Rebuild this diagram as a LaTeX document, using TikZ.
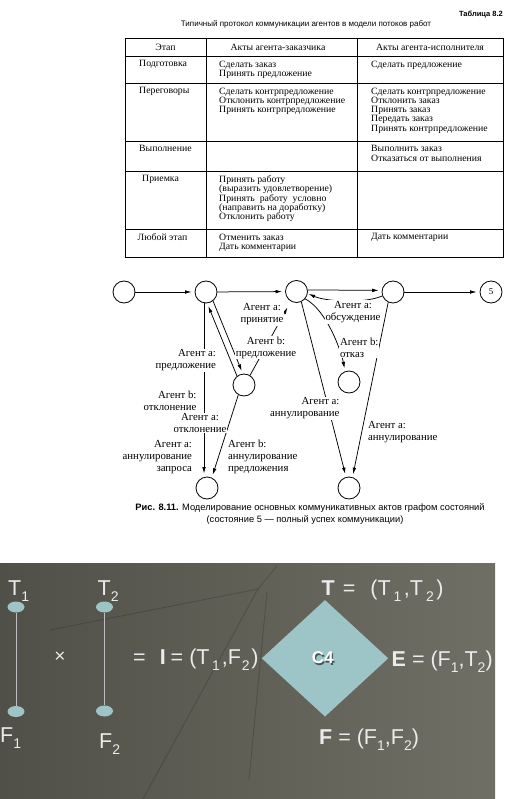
\documentclass[tikz,border=0pt]{standalone}
\usepackage{fontspec}
\setmainfont{Liberation Serif}
\setsansfont{Liberation Sans}
\newfontfamily\tabfont[FakeStretch=1.02]{Liberation Serif}
\usetikzlibrary{arrows.meta,shapes.geometric}
\definecolor{bgL}{HTML}{505048}
\definecolor{bgR}{HTML}{706F65}
\definecolor{teal1}{HTML}{9DC4C6}
\definecolor{slidetxt}{HTML}{EBEBEB}
\definecolor{vline}{HTML}{BEBEBE}
\newcommand\sbx[1]{\raisebox{-0.3em}{\fontsize{14}{14}\selectfont #1}}
\begin{document}
\begin{tikzpicture}[x=1pt,y=-1pt,
  tbl/.style={line width=0.8pt},
  th/.style={font=\tabfont\fontsize{9.6}{9.3}\selectfont, inner sep=0pt},
  tx/.style={font=\tabfont\fontsize{9.6}{9.3}\selectfont, align=left, anchor=north west, inner sep=0pt},
  st/.style={circle, draw, line width=0.8pt, minimum size=22pt, inner sep=0pt},
  lb/.style={font=\fontsize{10.8}{12}\selectfont, inner sep=0.8pt, fill=white, align=center},
  ar/.style={-{Latex[length=6.5pt,width=3.6pt]}, line width=0.75pt, shorten >=3pt},
  faint/.style={draw=black, opacity=0.16, line width=0.9pt},
  stx/.style={text=slidetxt, font=\sffamily\fontsize{21.5}{24}\selectfont, inner sep=0pt, anchor=base west},
  dot/.style={ellipse, fill=teal1, minimum width=17pt, minimum height=11pt, inner sep=0pt},
]
\useasboundingbox (0,0) rectangle (522,799);
\fill[white] (0,0) rectangle (522,799);

% ---------- table ----------
\node[anchor=east, inner sep=0pt, font=\sffamily\bfseries\fontsize{7.5}{9}\selectfont] (ttl) at (503,15) {Таблица 8.2};
\node[inner sep=0pt, font=\sffamily\fontsize{8}{9}\selectfont] (sub) at (306,24.5) {Типичный протокол коммуникации агентов в модели потоков работ};
\draw[tbl] (125,38) rectangle (503,257);
\foreach \yy in {56,83,141,171,229} \draw[tbl] (125,\yy) -- (503,\yy);
\draw[tbl] (206,38) -- (206,257);
\draw[tbl] (357,38) -- (357,257);
\node[th] (h1) at (165.5,47) {Этап};
\node[th] (h2) at (278,47) {Акты агента-заказчика};
\node[th] (h3) at (430,47) {Акты агента-исполнителя};

\node[tx] (r1a) at (139,60.5) {Подготовка};
\node[tx] (r1b) at (219,60.5) {Сделать заказ\\Принять предложение};
\node[tx] (r1c) at (371,60.5) {Сделать предложение};
\node[tx] (r2a) at (139,87.5) {Переговоры};
\node[tx] (r2b) at (219,87.5) {Сделать контрпредложение\\Отклонить контрпредложение\\Принять контрпредложение};
\node[tx] (r2c) at (371,87.5) {Сделать контрпредложение\\Отклонить заказ\\Принять заказ\\Передать заказ\\Принять контрпредложение};
\node[tx] (r3a) at (139,145.5) {Выполнение};
\node[tx] (r3c) at (371,145.5) {Выполнить заказ\\Отказаться от выполнения};
\node[tx] (r4a) at (142,175.5) {Приемка};
\node[tx] (r4b) at (219,175.5) {Принять работу\\(выразить удовлетворение)\\Принять\ \ работу\ \ условно\\(направить на доработку)\\Отклонить работу};
\node[tx] (r5a) at (137.5,233.5) {Любой этап};
\node[tx] (r5b) at (219,233.5) {Отменить заказ\\Дать комментарии};
\node[tx] (r5c) at (371,233.5) {Дать комментарии};

% ---------- state graph ----------
\node[st] (A) at (124,292) {};
\node[st] (B) at (206,292) {};
\node[st] (C) at (296.5,291.5) {};
\node[st] (D) at (393,292) {};
\node[st, font=\fontsize{9}{9}\selectfont] (n5) at (491,292) {5};
\node[st] (E) at (244,385) {};
\node[st] (G) at (349,382) {};
\node[st] (F) at (207,488) {};
\node[st] (H) at (349,488) {};

\draw[ar] (A) -- (B);
\draw[ar] (B) -- (C);
\draw[ar] (C.8) -- (D.172);
\draw[ar, shorten >=1pt] (D.200) .. controls +(-18,8) and +(18,8) .. (C.-10);
\draw[ar] (D) -- (n5);
\draw[ar] (B.260) -- (B.260 |- F.north);
\draw[ar] (B.-52) -- (E.96);
\draw[ar] (E.128) -- (B.-84);
\draw[ar, shorten >=7pt] (E.58) -- (C.240);
\draw[ar] (E.-120) -- (F.65);
\draw[ar] (C.-40) .. controls +(22,12) and +(-4,-20) .. (G.110);
\draw[ar] (C.-65) -- (H.105);
\draw[ar] (D.-115) -- (H.72);

\node[lb] (l1) at (262,314.5) {Агент а:\\принятие};
\node[lb] (l2) at (266,347.5) {Агент b:\\предложение};
\node[lb, align=right, anchor=east] (l3) at (217,360.5) {Агент а:\\предложение};
\node[lb, align=right, anchor=east] (l4) at (197.5,401) {Агент b:\\отклонение};
\node[lb] (l5) at (200,423) {Агент а:\\отклонение};
\node[lb, align=right, anchor=east] (l6) at (193,457) {Агент а:\\аннулирование\\запроса};
\node[lb, align=left, anchor=west] (l7) at (227,457) {Агент b:\\аннулирование\\предложения};
\node[lb] (l8) at (353,312) {Агент а:\\обсуждение};
\node[lb, align=left, anchor=west] (l9) at (339,347.5) {Агент b:\\отказ};
\node[lb, align=right, anchor=east] (l10) at (340.5,408.5) {Агент а:\\аннулирование};
\node[lb, align=left, anchor=west] (l11) at (367,432) {Агент а:\\аннулирование};

\node[inner sep=0pt, font=\sffamily\fontsize{9.3}{10}\selectfont] (cap1) at (310,508) {\textbf{Рис. 8.11.} Моделирование основных коммуникативных актов графом состояний};
\node[inner sep=0pt, font=\sffamily\fontsize{9.3}{10}\selectfont] (cap2) at (305,520.5) {(состояние 5 — полный успех коммуникации)};

% ---------- slide ----------
\begin{scope}
\clip (0,563) rectangle (495,799);
\shade[left color=bgL, right color=bgR] (0,563) rectangle (495,799);
\coordinate (ap) at (258,589);
\draw[faint] (ap) -- (50,630);
\draw[faint] (ap) -- (143,799);
\draw[faint] (ap) -- (277,566);
\draw[faint] (267,592) -- (249,780);
\node[dot] (t1e) at (16,607) {};
\node[dot] (f1e) at (16,711.5) {};
\node[dot] (t2e) at (104.5,607) {};
\node[dot] (f2e) at (104.5,711) {};
\draw[vline, line width=0.8pt] (t1e.south) -- (f1e.north);
\draw[vline, line width=0.8pt] (t2e.south) -- (f2e.north);
\node[diamond, fill=teal1, minimum width=126.6pt, minimum height=116.6pt, inner sep=0pt] (c4) at (325,658.3) {};
\node[text=black, opacity=0.55, font=\sffamily\bfseries\fontsize{17}{17}\selectfont, inner sep=0pt] (c4s) at (324,659.3) {C4};
\node[text=white, font=\sffamily\bfseries\fontsize{17}{17}\selectfont, inner sep=0pt] (c4t) at (322.7,658) {C4};
\node[stx] (lT1) at (8,595) {T\sbx{1}};
\node[stx] (lT2) at (97.5,595) {T\sbx{2}};
\node[stx] (lF1) at (0,742) {F\sbx{1}};
\node[stx] (lF2) at (99,748) {F\sbx{2}};
\node[stx, anchor=center, font=\sffamily\fontsize{19}{19}\selectfont] (times) at (60,657) {×};
\node[stx] (lI) at (133,664) {=\hspace{14pt}\textbf{I}\hspace{5pt}=\hspace{6pt}(T\hspace{2.5pt}\sbx{1}\hspace{2pt},F\hspace{1pt}\sbx{2}\hspace{1.5pt})};
\node[stx] (lT) at (321.5,595) {\textbf{T}\hspace{2pt} =\hspace{15pt}(T\hspace{3pt}\sbx{1}\hspace{2.5pt},T\hspace{3pt}\sbx{2}\hspace{2.5pt})};
\node[stx] (lE) at (391.5,666) {\textbf{E} = (F\sbx{1},T\sbx{2})};
\node[stx] (lF) at (319,744) {\textbf{F} = (F\sbx{1},F\sbx{2})};
\end{scope}
\end{tikzpicture}
\end{document}
